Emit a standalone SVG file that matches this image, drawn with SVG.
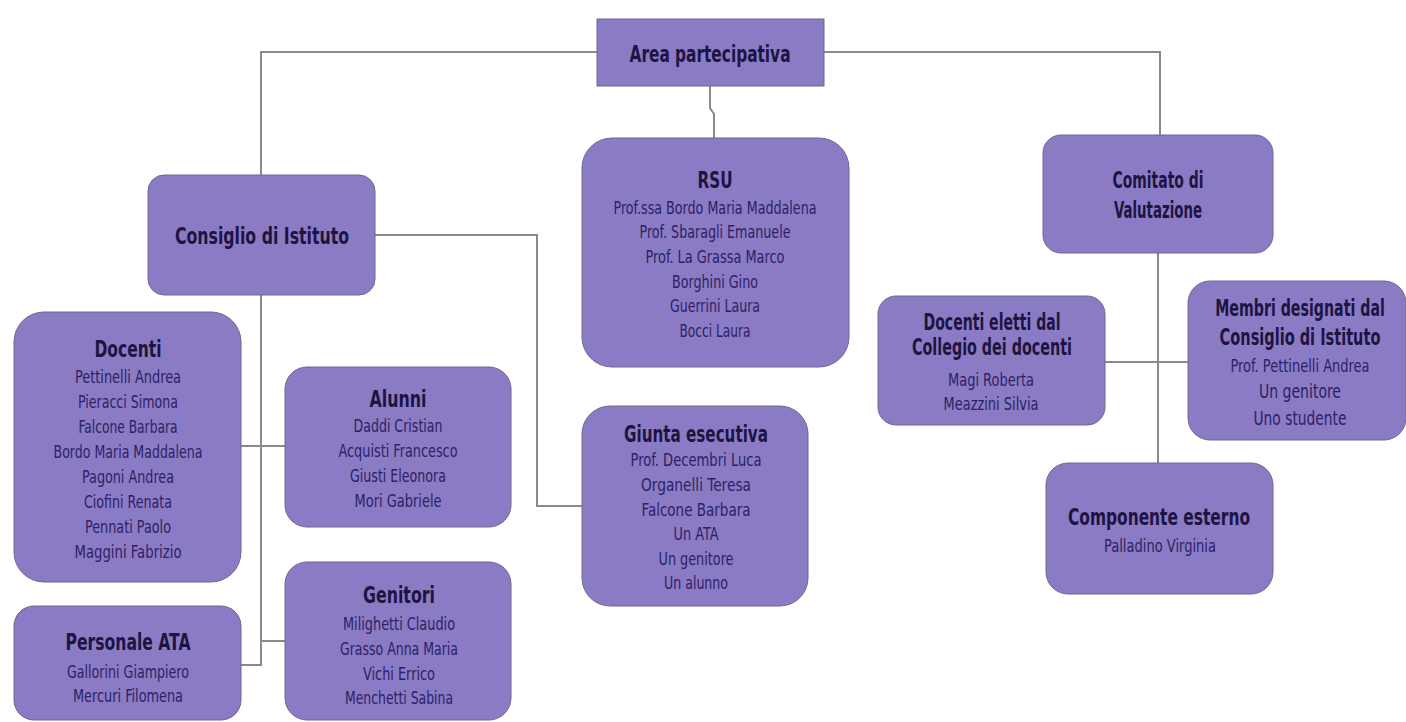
<svg xmlns="http://www.w3.org/2000/svg" width="1406" height="722" viewBox="0 0 1406 722">
<style>
.box{fill:#8b7bc4;stroke:#6e6790;stroke-width:1}
.ln{fill:none;stroke:#8a8a8a;stroke-width:2}
text{font-family:"DejaVu Sans Condensed","DejaVu Sans",sans-serif;text-anchor:middle}
.t{font-size:23px;font-weight:bold;fill:#1d1442}
.n{font-size:17px;fill:#2c2166}
</style>
<rect width="1406" height="722" fill="#ffffff"/>
<g id="connectors">
<path class="ln" d="M597 52H261V175"/>
<path class="ln" d="M824 52H1160V135"/>
<path class="ln" d="M710 86V108L714 114V138"/>
<path class="ln" d="M375 235H537V506H582"/>
<path class="ln" d="M261 295V665H241"/>
<path class="ln" d="M241 446H285"/>
<path class="ln" d="M261 641H285"/>
<path class="ln" d="M1158 253V463"/>
<path class="ln" d="M1105 362H1188"/>
</g>
<g id="area"><rect class="box" x="597" y="19" width="227" height="67"/><text class="t" x="710" y="62" textLength="161" lengthAdjust="spacingAndGlyphs">Area partecipativa</text></g>
<g id="consiglio"><rect class="box" x="148" y="175" width="227" height="120" rx="16"/><text class="t" x="262" y="244" textLength="174" lengthAdjust="spacingAndGlyphs">Consiglio di Istituto</text></g>
<g id="rsu"><rect class="box" x="582" y="138" width="267" height="229" rx="30"/>
<text class="t" x="715" y="188" textLength="35" lengthAdjust="spacingAndGlyphs">RSU</text>
<text class="n" x="715" y="214" textLength="203" lengthAdjust="spacingAndGlyphs">Prof.ssa Bordo Maria Maddalena</text>
<text class="n" x="715" y="238" textLength="151" lengthAdjust="spacingAndGlyphs">Prof. Sbaragli Emanuele</text>
<text class="n" x="715" y="263" textLength="139" lengthAdjust="spacingAndGlyphs">Prof. La Grassa Marco</text>
<text class="n" x="715" y="288" textLength="86" lengthAdjust="spacingAndGlyphs">Borghini Gino</text>
<text class="n" x="715" y="312" textLength="90" lengthAdjust="spacingAndGlyphs">Guerrini Laura</text>
<text class="n" x="715" y="337" textLength="71" lengthAdjust="spacingAndGlyphs">Bocci Laura</text></g>
<g id="comitato"><rect class="box" x="1043" y="135" width="230" height="118" rx="18"/>
<text class="t" x="1158" y="188" textLength="91" lengthAdjust="spacingAndGlyphs">Comitato di</text>
<text class="t" x="1158" y="218" textLength="88" lengthAdjust="spacingAndGlyphs">Valutazione</text></g>
<g id="docenti"><rect class="box" x="14" y="312" width="227" height="270" rx="30"/>
<text class="t" x="128" y="357" textLength="67" lengthAdjust="spacingAndGlyphs">Docenti</text>
<text class="n" x="128" y="383" textLength="106" lengthAdjust="spacingAndGlyphs">Pettinelli Andrea</text>
<text class="n" x="128" y="408" textLength="100" lengthAdjust="spacingAndGlyphs">Pieracci Simona</text>
<text class="n" x="128" y="433" textLength="99" lengthAdjust="spacingAndGlyphs">Falcone Barbara</text>
<text class="n" x="128" y="458" textLength="149" lengthAdjust="spacingAndGlyphs">Bordo Maria Maddalena</text>
<text class="n" x="128" y="483" textLength="92" lengthAdjust="spacingAndGlyphs">Pagoni Andrea</text>
<text class="n" x="128" y="508" textLength="88" lengthAdjust="spacingAndGlyphs">Ciofini Renata</text>
<text class="n" x="128" y="533" textLength="86" lengthAdjust="spacingAndGlyphs">Pennati Paolo</text>
<text class="n" x="128" y="558" textLength="107" lengthAdjust="spacingAndGlyphs">Maggini Fabrizio</text></g>
<g id="alunni"><rect class="box" x="285" y="367" width="226" height="160" rx="22"/>
<text class="t" x="398" y="407" textLength="57" lengthAdjust="spacingAndGlyphs">Alunni</text>
<text class="n" x="398" y="432" textLength="89" lengthAdjust="spacingAndGlyphs">Daddi Cristian</text>
<text class="n" x="398" y="457" textLength="119" lengthAdjust="spacingAndGlyphs">Acquisti Francesco</text>
<text class="n" x="398" y="482" textLength="96" lengthAdjust="spacingAndGlyphs">Giusti Eleonora</text>
<text class="n" x="398" y="507" textLength="87" lengthAdjust="spacingAndGlyphs">Mori Gabriele</text></g>
<g id="genitori"><rect class="box" x="285" y="562" width="226" height="158" rx="22"/>
<text class="t" x="399" y="603" textLength="72" lengthAdjust="spacingAndGlyphs">Genitori</text>
<text class="n" x="399" y="630" textLength="112" lengthAdjust="spacingAndGlyphs">Milighetti Claudio</text>
<text class="n" x="399" y="655" textLength="118" lengthAdjust="spacingAndGlyphs">Grasso Anna Maria</text>
<text class="n" x="399" y="680" textLength="72" lengthAdjust="spacingAndGlyphs">Vichi Errico</text>
<text class="n" x="399" y="704" textLength="108" lengthAdjust="spacingAndGlyphs">Menchetti Sabina</text></g>
<g id="ata"><rect class="box" x="14" y="606" width="227" height="114" rx="20"/>
<text class="t" x="128" y="650" textLength="125" lengthAdjust="spacingAndGlyphs">Personale ATA</text>
<text class="n" x="128" y="678" textLength="122" lengthAdjust="spacingAndGlyphs">Gallorini Giampiero</text>
<text class="n" x="128" y="702" textLength="110" lengthAdjust="spacingAndGlyphs">Mercuri Filomena</text></g>
<g id="giunta"><rect class="box" x="582" y="406" width="226" height="200" rx="28"/>
<text class="t" x="696" y="442" textLength="144" lengthAdjust="spacingAndGlyphs">Giunta esecutiva</text>
<text class="n" x="696" y="466" textLength="131" lengthAdjust="spacingAndGlyphs">Prof. Decembri Luca</text>
<text class="n" x="696" y="491" textLength="110" lengthAdjust="spacingAndGlyphs">Organelli Teresa</text>
<text class="n" x="696" y="516" textLength="109" lengthAdjust="spacingAndGlyphs">Falcone Barbara</text>
<text class="n" x="696" y="540" textLength="45" lengthAdjust="spacingAndGlyphs">Un ATA</text>
<text class="n" x="696" y="565" textLength="75" lengthAdjust="spacingAndGlyphs">Un genitore</text>
<text class="n" x="696" y="589" textLength="64" lengthAdjust="spacingAndGlyphs">Un alunno</text></g>
<g id="docenti-eletti"><rect class="box" x="878" y="296" width="227" height="129" rx="18"/>
<text class="t" x="992" y="330" textLength="137" lengthAdjust="spacingAndGlyphs">Docenti eletti dal</text>
<text class="t" x="992" y="355" textLength="160" lengthAdjust="spacingAndGlyphs">Collegio dei docenti</text>
<text class="n" x="991" y="386" textLength="86" lengthAdjust="spacingAndGlyphs">Magi Roberta</text>
<text class="n" x="991" y="410" textLength="95" lengthAdjust="spacingAndGlyphs">Meazzini Silvia</text></g>
<g id="membri"><rect class="box" x="1188" y="281" width="218" height="159" rx="22"/>
<text class="t" transform="translate(1300 316) scale(0.69 1)" x="0" y="0" textLength="246" lengthAdjust="spacingAndGlyphs">Membri designati dal</text>
<text class="t" transform="translate(1300 345) scale(0.69 1)" x="0" y="0" textLength="233" lengthAdjust="spacingAndGlyphs">Consiglio di Istituto</text>
<text class="n" x="1300" y="372" textLength="139" lengthAdjust="spacingAndGlyphs">Prof. Pettinelli Andrea</text>
<text class="n" x="1300" y="398" style="font-size:19px" textLength="82" lengthAdjust="spacingAndGlyphs">Un genitore</text>
<text class="n" x="1300" y="425" style="font-size:19px" textLength="93" lengthAdjust="spacingAndGlyphs">Uno studente</text></g>
<g id="componente"><rect class="box" x="1046" y="463" width="227" height="131" rx="22"/>
<text class="t" x="1159" y="525" textLength="182" lengthAdjust="spacingAndGlyphs">Componente esterno</text>
<text class="n" x="1160" y="552" textLength="112" lengthAdjust="spacingAndGlyphs">Palladino Virginia</text></g>
</svg>
